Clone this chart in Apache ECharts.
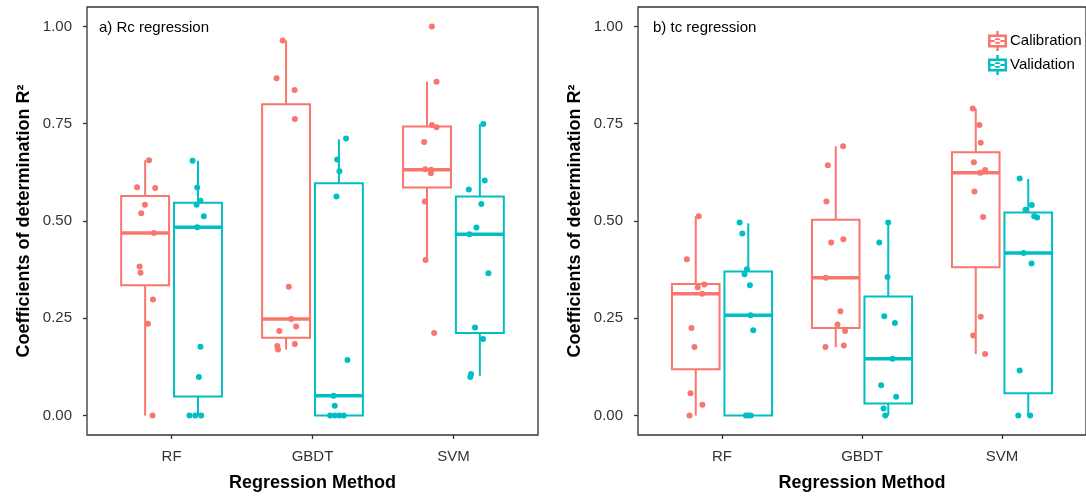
<!DOCTYPE html>
<html>
<head>
<meta charset="utf-8">
<script src="https://cdn.jsdelivr.net/npm/echarts@6/dist/echarts.min.js"></script>
<style>
  html, body { margin: 0; padding: 0; background: #fff; }
  #chart { width: 1086px; height: 497px; }
</style>
</head>
<body>
<div id="chart"></div>
<script>
// categories and tick labels
var methods = ['RF', 'GBDT', 'SVM'];
var yTicks = [0, 0.25, 0.5, 0.75, 1];

// box stats per method: [lower whisker, q1, median, q3, upper whisker]
var rcCalBox = [[0.000, 0.335, 0.469, 0.564, 0.656], [0.170, 0.200, 0.248, 0.800, 0.964], [0.400, 0.586, 0.632, 0.743, 0.858]];
var rcValBox = [[0.000, 0.049, 0.484, 0.547, 0.655], [0.000, 0.000, 0.051, 0.597, 0.710], [0.102, 0.212, 0.466, 0.563, 0.749]];
var tcCalBox = [[0.000, 0.119, 0.313, 0.338, 0.512], [0.176, 0.225, 0.354, 0.503, 0.692], [0.158, 0.381, 0.624, 0.677, 0.789]];
var tcValBox = [[0.000, 0.000, 0.258, 0.370, 0.494], [0.000, 0.031, 0.146, 0.306, 0.496], [0.000, 0.057, 0.418, 0.522, 0.608]];

// jittered points [x position (method index, jittered), R2]
var rcCalPts = [
  [0.840, 0.656], [0.755, 0.587], [0.884, 0.585], [0.811, 0.542], [0.785, 0.520], [0.875, 0.469], [0.773, 0.383], [0.780, 0.367], [0.868, 0.298], [0.832, 0.236], [0.865, 0.000],
  [1.788, 0.964], [1.745, 0.867], [1.873, 0.837], [1.875, 0.762], [1.832, 0.331], [1.849, 0.248], [1.764, 0.217], [1.884, 0.229], [1.875, 0.184], [1.750, 0.179], [1.755, 0.170],
  [2.847, 1.000], [2.880, 0.858], [2.847, 0.747], [2.880, 0.741], [2.792, 0.703], [2.799, 0.633], [2.842, 0.632], [2.840, 0.623], [2.797, 0.550], [2.802, 0.400], [2.863, 0.212]
];
var rcValPts = [
  [1.149, 0.655], [1.182, 0.586], [1.205, 0.552], [1.177, 0.542], [1.229, 0.512], [1.182, 0.484], [1.205, 0.177], [1.194, 0.099], [1.127, 0], [1.168, 0], [1.210, 0],
  [2.238, 0.712], [2.175, 0.658], [2.191, 0.628], [2.170, 0.563], [2.248, 0.143], [2.149, 0.051], [2.158, 0.025], [2.125, 0], [2.158, 0], [2.191, 0], [2.222, 0],
  [3.212, 0.749], [3.222, 0.604], [3.109, 0.581], [3.198, 0.544], [3.163, 0.483], [3.113, 0.466], [3.248, 0.366], [3.153, 0.226], [3.210, 0.197], [3.125, 0.107], [3.120, 0.099]
];
var tcCalPts = [
  [0.834, 0.512], [0.749, 0.402], [0.874, 0.337], [0.827, 0.329], [0.858, 0.313], [0.782, 0.225], [0.803, 0.176], [0.775, 0.057], [0.860, 0.028], [0.768, 0],
  [1.865, 0.692], [1.756, 0.643], [1.746, 0.550], [1.867, 0.453], [1.780, 0.445], [1.742, 0.354], [1.846, 0.268], [1.825, 0.234], [1.879, 0.217], [1.739, 0.176], [1.870, 0.180],
  [2.791, 0.789], [2.839, 0.747], [2.848, 0.701], [2.799, 0.651], [2.879, 0.631], [2.844, 0.624], [2.803, 0.576], [2.865, 0.510], [2.848, 0.254], [2.794, 0.206], [2.879, 0.158]
];
var tcValPts = [
  [1.126, 0.496], [1.145, 0.468], [1.178, 0.376], [1.161, 0.363], [1.199, 0.335], [1.204, 0.258], [1.223, 0.219], [1.171, 0], [1.187, 0], [1.206, 0],
  [2.187, 0.496], [2.123, 0.445], [2.182, 0.356], [2.159, 0.255], [2.235, 0.238], [2.218, 0.146], [2.137, 0.078], [2.244, 0.048], [2.154, 0.018], [2.166, 0],
  [3.126, 0.609], [3.213, 0.541], [3.168, 0.529], [3.230, 0.512], [3.251, 0.509], [3.154, 0.418], [3.211, 0.391], [3.126, 0.116], [3.116, 0], [3.201, 0]
];

var calColor = '#F8766D';
var valColor = '#00BFC4';
var font = '"Liberation Sans", Arial, sans-serif';
var dodge = 0.1875;
var halfBox = 0.17;

// legend glyph: box with whiskers, median and a dot
var boxIcon = 'path://M0.5,3.5L19.5,3.5L19.5,16.5L0.5,16.5Z M3,6L3,14L17,14L17,6Z ' +
  'M8.8,0L11.2,0L11.2,3.5L8.8,3.5Z M8.8,16.5L11.2,16.5L11.2,20L8.8,20Z ' +
  'M3,8.9L17,8.9L17,11.1L3,11.1Z M7,10A3,3,0,1,0,13,10A3,3,0,1,0,7,10Z';

function boxData(stats, offset) {
  return stats.map(function (s, i) {
    return [i + 1 + offset].concat(s);
  });
}

function renderBox(params, api) {
  var x = api.value(0);
  var lo = api.value(1), q1 = api.value(2), med = api.value(3), q3 = api.value(4), hi = api.value(5);
  var color = api.visual('color');
  var tl = api.coord([x - halfBox, q3]);
  var br = api.coord([x + halfBox, q1]);
  var mL = api.coord([x - halfBox, med]);
  var mR = api.coord([x + halfBox, med]);
  var pHi = api.coord([x, hi]);
  var pQ3 = api.coord([x, q3]);
  var pQ1 = api.coord([x, q1]);
  var pLo = api.coord([x, lo]);
  return {
    type: 'group',
    children: [
      { type: 'line', shape: { x1: pHi[0], y1: pHi[1], x2: pQ3[0], y2: pQ3[1] }, style: { stroke: color, lineWidth: 2 } },
      { type: 'line', shape: { x1: pQ1[0], y1: pQ1[1], x2: pLo[0], y2: pLo[1] }, style: { stroke: color, lineWidth: 2 } },
      { type: 'rect', shape: { x: tl[0], y: tl[1], width: br[0] - tl[0], height: br[1] - tl[1] },
        style: { fill: '#fff', stroke: color, lineWidth: 2 } },
      { type: 'line', shape: { x1: mL[0], y1: mL[1], x2: mR[0], y2: mR[1] }, style: { stroke: color, lineWidth: 3.5 } }
    ]
  };
}

function boxSeries(name, stats, offset, color, idx) {
  return {
    name: name,
    type: 'custom',
    xAxisIndex: idx,
    yAxisIndex: idx,
    itemStyle: { color: color },
    renderItem: renderBox,
    encode: { x: 0, y: [1, 2, 3, 4, 5] },
    data: boxData(stats, offset),
    z: 2
  };
}

function pointSeries(name, pts, color, idx) {
  return {
    name: name,
    type: 'scatter',
    xAxisIndex: idx,
    yAxisIndex: idx,
    symbolSize: 6,
    itemStyle: { color: color, opacity: 1 },
    data: pts,
    z: 3
  };
}

function xAxis(idx) {
  return {
    type: 'value',
    gridIndex: idx,
    min: 0.4,
    max: 3.6,
    name: 'Regression Method',
    nameLocation: 'middle',
    nameGap: 39,
    nameTextStyle: { fontFamily: font, fontSize: 18, fontWeight: 'bold', color: '#000' },
    axisLine: { show: false, onZero: false },
    axisTick: { show: true, length: 4, customValues: [1, 2, 3], lineStyle: { color: '#333', width: 1.3 } },
    axisLabel: {
      customValues: [1, 2, 3],
      margin: 14,
      fontFamily: font,
      fontSize: 15,
      color: '#333',
      formatter: function (v) { return methods[Math.round(v) - 1]; }
    },
    splitLine: { show: false }
  };
}

function yAxis(idx) {
  return {
    type: 'value',
    gridIndex: idx,
    min: -0.05,
    max: 1.05,
    name: 'Coefficients of determination R\u00b2',
    nameLocation: 'middle',
    nameGap: 54,
    nameTextStyle: { fontFamily: font, fontSize: 18, fontWeight: 'bold', color: '#000' },
    axisLine: { show: false, onZero: false },
    axisTick: { show: true, length: 4, customValues: yTicks, lineStyle: { color: '#333', width: 1.3 } },
    axisLabel: {
      customValues: yTicks,
      margin: 15,
      fontFamily: font,
      fontSize: 15,
      color: '#333',
      formatter: function (v) { return v.toFixed(2); }
    },
    splitLine: { show: false }
  };
}

var chart = echarts.init(document.getElementById('chart'), null, { renderer: 'canvas' });
chart.setOption({
  animation: false,
  backgroundColor: '#fff',
  title: [
    { text: 'a) Rc regression', left: 99, top: 20, padding: 0,
      textStyle: { fontFamily: font, fontSize: 15, fontWeight: 'normal', color: '#000' } },
    { text: 'b) tc regression', left: 653, top: 20, padding: 0,
      textStyle: { fontFamily: font, fontSize: 15, fontWeight: 'normal', color: '#000' } }
  ],
  legend: {
    orient: 'vertical',
    left: 988,
    top: 31,
    padding: 0,
    itemWidth: 21,
    itemHeight: 20,
    itemGap: 4,
    textStyle: { fontFamily: font, fontSize: 15, color: '#000', padding: [0, 0, 0, -3] },
    itemStyle: { borderWidth: 0 },
    data: [
      { name: 'Calibration', icon: boxIcon, itemStyle: { color: calColor } },
      { name: 'Validation', icon: boxIcon, itemStyle: { color: valColor } }
    ]
  },
  grid: [
    { left: 87, top: 7, width: 451, height: 430, show: true, borderColor: '#333', borderWidth: 1.3, backgroundColor: 'transparent' },
    { left: 638, top: 7, width: 451, height: 430, show: true, borderColor: '#333', borderWidth: 1.3, backgroundColor: 'transparent' }
  ],
  xAxis: [xAxis(0), xAxis(1)],
  yAxis: [yAxis(0), yAxis(1)],
  series: [
    boxSeries('Calibration', rcCalBox, -dodge, calColor, 0),
    boxSeries('Validation', rcValBox, dodge, valColor, 0),
    boxSeries('Calibration', tcCalBox, -dodge, calColor, 1),
    boxSeries('Validation', tcValBox, dodge, valColor, 1),
    pointSeries('Calibration', rcCalPts, calColor, 0),
    pointSeries('Validation', rcValPts, valColor, 0),
    pointSeries('Calibration', tcCalPts, calColor, 1),
    pointSeries('Validation', tcValPts, valColor, 1)
  ]
});
</script>
</body>
</html>
